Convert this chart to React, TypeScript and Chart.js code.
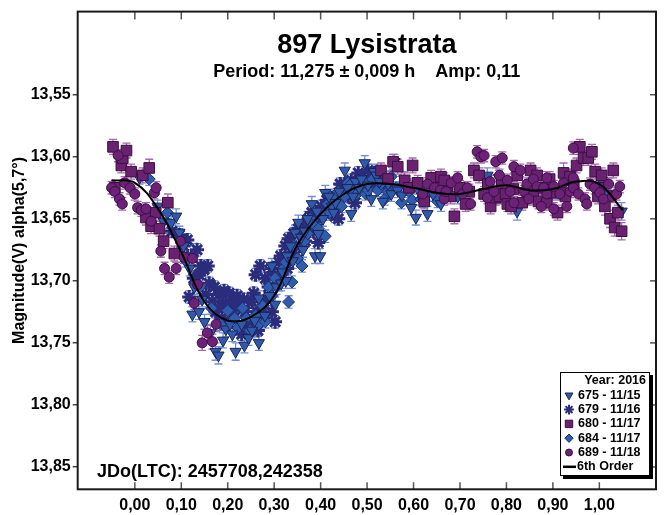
import React, { useEffect, useRef } from 'react';
import { Chart, registerables } from 'chart.js';
import { drawPoint } from 'chart.js/helpers';

Chart.register(...registerables);

const FONT = '"Liberation Sans", Arial, sans-serif';

const titleText = '897 Lysistrata';
const subtitleText = 'Period: 11,275 ± 0,009 h    Amp: 0,11';
const epochText = 'JDo(LTC): 2457708,242358';
const yAxisTitle = 'Magnitude(V) alpha(5,7°)';
const legendTitle = 'Year: 2016';

const xTicks = [0, 0.1, 0.2, 0.3, 0.4, 0.5, 0.6, 0.7, 0.8, 0.9, 1.0];
const xTickLabels = ['0,00', '0,10', '0,20', '0,30', '0,40', '0,50', '0,60', '0,70', '0,80', '0,90', '1,00'];
const yTicks = [13.55, 13.6, 13.65, 13.7, 13.75, 13.8, 13.85];
const yTickLabels = ['13,55', '13,60', '13,65', '13,70', '13,75', '13,80', '13,85'];

// 6th order Fourier fit (phase, magnitude)
const curvePhase = [-0.05, 0, 0.05, 0.1, 0.15, 0.2, 0.25, 0.3, 0.35, 0.4, 0.45, 0.5, 0.55, 0.6, 0.65, 0.7, 0.75, 0.8, 0.85, 0.9, 0.95, 1.0, 1.05];
const curveMag = [13.619, 13.621, 13.642, 13.677, 13.717, 13.732, 13.729, 13.712, 13.671, 13.646, 13.630, 13.622, 13.622, 13.625, 13.629, 13.630, 13.626, 13.623, 13.627, 13.626, 13.620, 13.622, 13.643];

// [phase, magnitude, error]
const s675: [number, number, number][] = [
  [0.010, 13.617, 0.005], [0.049, 13.640, 0.005], [0.062, 13.652, 0.006], [0.078, 13.653, 0.005], [0.089, 13.648, 0.006],
  [0.096, 13.661, 0.005], [0.105, 13.672, 0.006], [0.118, 13.690, 0.006], [0.124, 13.727, 0.006], [0.128, 13.705, 0.006],
  [0.138, 13.725, 0.006], [0.145, 13.715, 0.006], [0.150, 13.733, 0.006], [0.163, 13.742, 0.007], [0.174, 13.757, 0.007],
  [0.180, 13.760, 0.007], [0.190, 13.748, 0.006], [0.196, 13.739, 0.006], [0.205, 13.735, 0.006], [0.210, 13.743, 0.006],
  [0.217, 13.757, 0.007], [0.230, 13.735, 0.006], [0.236, 13.752, 0.006], [0.245, 13.746, 0.006], [0.252, 13.740, 0.006],
  [0.267, 13.750, 0.006], [0.258, 13.732, 0.006], [0.280, 13.728, 0.006], [0.267, 13.714, 0.006], [0.290, 13.712, 0.006],
  [0.295, 13.688, 0.006], [0.302, 13.719, 0.006], [0.305, 13.705, 0.006], [0.315, 13.702, 0.006], [0.318, 13.693, 0.006],
  [0.325, 13.700, 0.006], [0.328, 13.680, 0.006], [0.335, 13.672, 0.006], [0.340, 13.684, 0.006], [0.345, 13.661, 0.006],
  [0.352, 13.653, 0.006], [0.358, 13.665, 0.006], [0.362, 13.675, 0.006], [0.366, 13.660, 0.006], [0.372, 13.650, 0.006],
  [0.381, 13.638, 0.006], [0.388, 13.680, 0.006], [0.392, 13.644, 0.006], [0.395, 13.662, 0.006], [0.399, 13.680, 0.006],
  [0.405, 13.650, 0.006], [0.410, 13.629, 0.006], [0.418, 13.632, 0.006], [0.424, 13.640, 0.006], [0.428, 13.645, 0.006],
  [0.432, 13.637, 0.006], [0.440, 13.628, 0.006], [0.452, 13.611, 0.006], [0.458, 13.625, 0.006], [0.466, 13.646, 0.006],
  [0.470, 13.632, 0.006], [0.475, 13.620, 0.006], [0.483, 13.625, 0.006], [0.488, 13.618, 0.006], [0.495, 13.605, 0.006],
  [0.502, 13.623, 0.006], [0.509, 13.634, 0.006], [0.515, 13.612, 0.006], [0.520, 13.615, 0.006], [0.527, 13.620, 0.006],
  [0.534, 13.636, 0.006], [0.540, 13.618, 0.006], [0.545, 13.622, 0.006], [0.552, 13.630, 0.006], [0.559, 13.604, 0.006],
  [0.566, 13.627, 0.006], [0.575, 13.631, 0.006], [0.580, 13.618, 0.006], [0.588, 13.624, 0.006], [0.595, 13.641, 0.006],
  [0.605, 13.649, 0.006], [0.612, 13.628, 0.006], [0.620, 13.635, 0.006], [0.630, 13.646, 0.006], [0.642, 13.630, 0.006],
  [0.659, 13.638, 0.006], [0.695, 13.632, 0.006], [0.759, 13.615, 0.006], [0.784, 13.617, 0.006], [0.823, 13.644, 0.007],
  [0.905, 13.628, 0.006], [1.005, 13.619, 0.006], [1.016, 13.630, 0.006], [1.048, 13.644, 0.007],
];

const s679: [number, number, number][] = [
  [0.080, 13.660, 0.005], [0.096, 13.663, 0.005], [0.105, 13.672, 0.005], [0.113, 13.667, 0.005], [0.117, 13.713, 0.005],
  [0.122, 13.680, 0.005], [0.127, 13.698, 0.005], [0.134, 13.675, 0.005], [0.138, 13.695, 0.005], [0.142, 13.688, 0.005],
  [0.149, 13.691, 0.005], [0.153, 13.711, 0.005], [0.157, 13.688, 0.005], [0.160, 13.702, 0.005], [0.167, 13.717, 0.005],
  [0.171, 13.705, 0.005], [0.174, 13.725, 0.005], [0.181, 13.711, 0.005], [0.185, 13.720, 0.005], [0.188, 13.730, 0.005],
  [0.192, 13.708, 0.005], [0.196, 13.718, 0.005], [0.203, 13.710, 0.005], [0.206, 13.718, 0.005], [0.210, 13.727, 0.005],
  [0.217, 13.720, 0.005], [0.220, 13.712, 0.005], [0.224, 13.721, 0.005], [0.230, 13.743, 0.005], [0.234, 13.715, 0.005],
  [0.238, 13.725, 0.005], [0.242, 13.738, 0.005], [0.245, 13.733, 0.005], [0.252, 13.717, 0.005], [0.256, 13.710, 0.005],
  [0.260, 13.695, 0.005], [0.263, 13.725, 0.005], [0.265, 13.740, 0.005], [0.270, 13.688, 0.005], [0.275, 13.722, 0.005],
  [0.281, 13.698, 0.005], [0.281, 13.730, 0.005], [0.285, 13.715, 0.005], [0.288, 13.705, 0.005], [0.295, 13.690, 0.005],
  [0.295, 13.725, 0.005], [0.300, 13.695, 0.005], [0.302, 13.733, 0.005], [0.310, 13.685, 0.005], [0.314, 13.680, 0.005],
  [0.318, 13.698, 0.005], [0.324, 13.672, 0.005], [0.328, 13.690, 0.005], [0.331, 13.666, 0.005], [0.338, 13.674, 0.005],
  [0.342, 13.662, 0.005], [0.345, 13.680, 0.005], [0.352, 13.658, 0.005], [0.356, 13.672, 0.005], [0.360, 13.661, 0.005],
  [0.367, 13.668, 0.005], [0.370, 13.655, 0.005], [0.374, 13.650, 0.005], [0.381, 13.645, 0.005], [0.384, 13.660, 0.005],
  [0.388, 13.655, 0.005], [0.395, 13.669, 0.005], [0.398, 13.648, 0.005], [0.402, 13.640, 0.005], [0.410, 13.646, 0.005],
  [0.413, 13.635, 0.005], [0.417, 13.642, 0.005], [0.424, 13.633, 0.005], [0.428, 13.640, 0.005], [0.431, 13.648, 0.005],
  [0.438, 13.650, 0.005], [0.442, 13.622, 0.005], [0.445, 13.629, 0.005], [0.452, 13.622, 0.005], [0.456, 13.628, 0.005],
  [0.459, 13.632, 0.005], [0.466, 13.619, 0.005], [0.470, 13.625, 0.005], [0.474, 13.637, 0.005], [0.481, 13.613, 0.005],
  [0.485, 13.620, 0.005], [0.488, 13.626, 0.005], [0.495, 13.618, 0.005], [0.502, 13.611, 0.005], [0.509, 13.622, 0.005],
  [0.516, 13.613, 0.005], [0.520, 13.616, 0.005], [0.530, 13.620, 0.005], [0.545, 13.625, 0.005],
];

const s680: [number, number, number][] = [
  [-0.047, 13.592, 0.006], [-0.043, 13.625, 0.006], [-0.029, 13.607, 0.006], [-0.026, 13.601, 0.006], [-0.018, 13.595, 0.006],
  [-0.008, 13.612, 0.006], [0.017, 13.615, 0.006], [0.024, 13.649, 0.006], [0.031, 13.609, 0.007], [0.035, 13.656, 0.006],
  [0.045, 13.645, 0.006], [0.053, 13.658, 0.006], [0.062, 13.668, 0.006], [0.071, 13.637, 0.007], [0.085, 13.678, 0.006],
  [0.530, 13.611, 0.006], [0.545, 13.618, 0.006], [0.556, 13.604, 0.006], [0.566, 13.608, 0.006], [0.581, 13.619, 0.006],
  [0.590, 13.625, 0.006], [0.598, 13.607, 0.006], [0.609, 13.621, 0.006], [0.623, 13.636, 0.006], [0.638, 13.617, 0.006],
  [0.650, 13.625, 0.006], [0.659, 13.616, 0.006], [0.666, 13.619, 0.006], [0.673, 13.628, 0.006], [0.680, 13.632, 0.006],
  [0.688, 13.648, 0.006], [0.700, 13.625, 0.006], [0.712, 13.638, 0.006], [0.720, 13.628, 0.006], [0.730, 13.611, 0.006],
  [0.741, 13.615, 0.006], [0.752, 13.630, 0.006], [0.760, 13.622, 0.006], [0.766, 13.640, 0.006], [0.777, 13.633, 0.006],
  [0.785, 13.632, 0.006], [0.790, 13.622, 0.006], [0.798, 13.630, 0.006], [0.802, 13.638, 0.006], [0.810, 13.640, 0.006],
  [0.815, 13.626, 0.006], [0.823, 13.615, 0.006], [0.834, 13.637, 0.006], [0.845, 13.628, 0.006], [0.852, 13.611, 0.006],
  [0.858, 13.632, 0.006], [0.866, 13.615, 0.006], [0.869, 13.636, 0.006], [0.880, 13.625, 0.006], [0.887, 13.637, 0.006],
  [0.893, 13.618, 0.006], [0.898, 13.629, 0.006], [0.910, 13.645, 0.006], [0.917, 13.628, 0.006], [0.923, 13.613, 0.008],
  [0.927, 13.632, 0.006], [0.937, 13.616, 0.006], [0.945, 13.622, 0.006], [0.951, 13.607, 0.006], [0.958, 13.592, 0.006],
  [0.966, 13.601, 0.006], [0.976, 13.601, 0.006], [0.984, 13.596, 0.006], [0.991, 13.612, 0.006], [0.997, 13.632, 0.006],
  [1.000, 13.625, 0.006], [1.005, 13.615, 0.006], [1.012, 13.640, 0.007], [1.023, 13.650, 0.007], [1.030, 13.611, 0.006],
  [1.033, 13.657, 0.007], [1.040, 13.645, 0.006], [1.048, 13.660, 0.007],
];

const s684: [number, number, number][] = [
  [0.031, 13.618, 0.005], [0.070, 13.645, 0.005], [0.110, 13.684, 0.005], [0.140, 13.705, 0.005], [0.165, 13.722, 0.005],
  [0.185, 13.735, 0.005], [0.200, 13.724, 0.005], [0.215, 13.730, 0.005], [0.222, 13.738, 0.005], [0.232, 13.722, 0.005],
  [0.240, 13.730, 0.005], [0.248, 13.740, 0.005], [0.260, 13.728, 0.005], [0.267, 13.735, 0.005], [0.275, 13.720, 0.005],
  [0.281, 13.733, 0.005], [0.288, 13.705, 0.005], [0.295, 13.712, 0.005], [0.302, 13.698, 0.005], [0.310, 13.703, 0.005],
  [0.320, 13.690, 0.005], [0.325, 13.685, 0.005], [0.331, 13.717, 0.005], [0.338, 13.701, 0.005], [0.343, 13.672, 0.005],
  [0.350, 13.682, 0.005], [0.360, 13.688, 0.005], [0.365, 13.668, 0.005], [0.372, 13.662, 0.005], [0.378, 13.650, 0.005],
  [0.385, 13.655, 0.005], [0.395, 13.658, 0.005], [0.402, 13.645, 0.005], [0.410, 13.664, 0.005], [0.415, 13.638, 0.005],
  [0.420, 13.645, 0.005], [0.431, 13.633, 0.005], [0.438, 13.628, 0.005], [0.445, 13.640, 0.005], [0.452, 13.632, 0.005],
  [0.459, 13.621, 0.005], [0.465, 13.622, 0.005], [0.470, 13.630, 0.005], [0.481, 13.629, 0.005], [0.492, 13.620, 0.005],
  [0.497, 13.630, 0.005], [0.502, 13.627, 0.005], [0.512, 13.618, 0.005], [0.523, 13.627, 0.005], [0.530, 13.622, 0.005],
  [0.538, 13.634, 0.005], [0.545, 13.628, 0.005], [0.552, 13.616, 0.005], [0.563, 13.625, 0.005], [0.574, 13.637, 0.005],
  [0.580, 13.622, 0.005], [0.590, 13.628, 0.005], [0.597, 13.635, 0.005], [0.604, 13.622, 0.005], [0.616, 13.634, 0.005],
  [0.630, 13.630, 0.005], [0.652, 13.636, 0.005],
];

const s689: [number, number, number][] = [
  [-0.050, 13.625, 0.005], [-0.043, 13.628, 0.005], [-0.036, 13.599, 0.005], [-0.033, 13.634, 0.005], [-0.027, 13.638, 0.005],
  [-0.022, 13.621, 0.005], [-0.010, 13.625, 0.005], [0.000, 13.630, 0.005], [0.006, 13.641, 0.005], [0.014, 13.643, 0.005],
  [0.024, 13.642, 0.005], [0.035, 13.652, 0.005], [0.042, 13.629, 0.005], [0.046, 13.625, 0.005], [0.056, 13.676, 0.005],
  [0.064, 13.690, 0.005], [0.074, 13.697, 0.005], [0.089, 13.690, 0.005], [0.098, 13.668, 0.005], [0.106, 13.681, 0.005],
  [0.124, 13.682, 0.005], [0.128, 13.718, 0.005], [0.135, 13.703, 0.005], [0.145, 13.750, 0.006], [0.156, 13.742, 0.006],
  [0.167, 13.749, 0.006], [0.175, 13.735, 0.006],
  [0.620, 13.630, 0.005], [0.630, 13.622, 0.005], [0.645, 13.625, 0.005], [0.658, 13.627, 0.005], [0.666, 13.634, 0.005],
  [0.670, 13.628, 0.005], [0.681, 13.621, 0.005], [0.695, 13.617, 0.005], [0.705, 13.630, 0.005], [0.716, 13.625, 0.005],
  [0.723, 13.638, 0.005], [0.737, 13.596, 0.005], [0.745, 13.600, 0.005], [0.752, 13.599, 0.005], [0.759, 13.633, 0.005],
  [0.765, 13.620, 0.005], [0.773, 13.628, 0.005], [0.777, 13.604, 0.005], [0.785, 13.615, 0.005], [0.791, 13.601, 0.005],
  [0.802, 13.619, 0.005], [0.808, 13.628, 0.005], [0.816, 13.608, 0.005], [0.816, 13.637, 0.005], [0.830, 13.611, 0.005],
  [0.838, 13.628, 0.005], [0.844, 13.622, 0.005], [0.848, 13.634, 0.005], [0.858, 13.618, 0.005], [0.866, 13.624, 0.005],
  [0.875, 13.640, 0.005], [0.880, 13.625, 0.005], [0.887, 13.617, 0.005], [0.887, 13.630, 0.005], [0.902, 13.624, 0.005],
  [0.902, 13.642, 0.005], [0.915, 13.630, 0.005], [0.923, 13.621, 0.005], [0.930, 13.640, 0.005], [0.937, 13.628, 0.005],
  [0.944, 13.593, 0.005], [0.944, 13.617, 0.005], [0.944, 13.625, 0.005], [0.955, 13.630, 0.005], [0.969, 13.634, 0.005],
  [0.973, 13.638, 0.005], [0.980, 13.622, 0.005], [0.990, 13.625, 0.005], [1.001, 13.629, 0.005], [1.009, 13.634, 0.005],
  [1.020, 13.622, 0.005], [1.028, 13.632, 0.005], [1.037, 13.630, 0.005], [1.044, 13.624, 0.005],
];

const toPts = (arr: [number, number, number][]) => arr.map(([x, y, e]) => ({ x, y, e }));

type SeriesStyle = {
  label: string; data: [number, number, number][]; pointStyle: string; rotation: number;
  radius: number; bg: string; border: string; bw: number; err: string; order: number;
};

const series: SeriesStyle[] = [
  { label: '675 - 11/15', data: s675, pointStyle: 'triangle', rotation: 180, radius: 6.5, bg: '#3159aa', border: '#1a2458', bw: 1, err: '#6f8fd6', order: 3 },
  { label: '679 - 11/16', data: s679, pointStyle: 'star', rotation: 0, radius: 7, bg: '#2b2c7c', border: '#2b2c7c', bw: 3, err: '#6f8fd6', order: 5 },
  { label: '680 - 11/17', data: s680, pointStyle: 'rect', rotation: 0, radius: 7.5, bg: '#6a2270', border: '#3a0f42', bw: 1, err: '#a868ab', order: 2 },
  { label: '684 - 11/17', data: s684, pointStyle: 'rectRot', rotation: 0, radius: 6, bg: '#2f5cae', border: '#1c3370', bw: 1, err: '#6f8fd6', order: 4 },
  { label: '689 - 11/18', data: s689, pointStyle: 'circle', rotation: 0, radius: 5, bg: '#6c2276', border: '#3b0f45', bw: 1, err: '#a868ab', order: 1 },
];

const errorBarPlugin = {
  id: 'errbars',
  beforeDatasetsDraw(chart: any) {
    const ctx = chart.ctx;
    const yS = chart.scales.y;
    chart.data.datasets.forEach((ds: any, di: number) => {
      if (!ds.errColor) return;
      const meta = chart.getDatasetMeta(di);
      ctx.save();
      ctx.strokeStyle = ds.errColor;
      ctx.lineWidth = 1.3;
      meta.data.forEach((el: any, i: number) => {
        const d = ds.data[i];
        const x = el.x;
        const y1 = yS.getPixelForValue(d.y - d.e);
        const y2 = yS.getPixelForValue(d.y + d.e);
        ctx.beginPath();
        ctx.moveTo(x, y1); ctx.lineTo(x, y2);
        ctx.moveTo(x - 4, y1); ctx.lineTo(x + 4, y1);
        ctx.moveTo(x - 4, y2); ctx.lineTo(x + 4, y2);
        ctx.stroke();
      });
      ctx.restore();
    });
  },
};

const decorPlugin = {
  id: 'decor',
  afterDraw(chart: any) {
    const ctx = chart.ctx;
    const { left, right, top, bottom } = chart.chartArea;
    const xS = chart.scales.x;
    const yS = chart.scales.y;
    ctx.save();
    ctx.strokeStyle = '#555';
    ctx.lineWidth = 1.5;
    xTicks.forEach((v) => {
      const px = xS.getPixelForValue(v);
      ctx.beginPath();
      ctx.moveTo(px, top); ctx.lineTo(px, top + 8);
      ctx.moveTo(px, bottom); ctx.lineTo(px, bottom - 7);
      ctx.stroke();
    });
    yTicks.forEach((v) => {
      const py = yS.getPixelForValue(v);
      ctx.beginPath();
      ctx.moveTo(right, py); ctx.lineTo(right - 6, py);
      ctx.stroke();
    });
    ctx.strokeStyle = '#1a1a1a';
    ctx.lineWidth = 2;
    ctx.strokeRect(left, top, right - left, bottom - top);

    ctx.fillStyle = '#000';
    ctx.textAlign = 'center';
    ctx.textBaseline = 'alphabetic';
    const cx = (left + right) / 2;
    ctx.font = `bold 27px ${FONT}`;
    ctx.fillText(titleText, cx, 53);
    ctx.font = `bold 18px ${FONT}`;
    ctx.fillText(subtitleText, cx, 76.5);
    ctx.textAlign = 'left';
    ctx.font = `bold 18px ${FONT}`;
    ctx.fillText(epochText, 97, 477);

    const bx = 560, by = 372, bw = 90, bh = 104;
    ctx.fillStyle = '#000';
    ctx.fillRect(bx + 3, by + 3, bw, bh);
    ctx.fillStyle = '#fff';
    ctx.fillRect(bx, by, bw, bh);
    ctx.strokeStyle = '#000';
    ctx.lineWidth = 1;
    ctx.strokeRect(bx + 0.5, by + 0.5, bw - 1, bh - 1);
    ctx.fillStyle = '#000';
    ctx.font = `bold 12.5px ${FONT}`;
    ctx.textBaseline = 'middle';
    ctx.textAlign = 'right';
    ctx.fillText(legendTitle, bx + bw - 4, by + 9);
    ctx.textAlign = 'left';
    const rowH = 14.3;
    series.forEach((s, i) => {
      const ry = by + 9 + rowH * (i + 1);
      ctx.fillStyle = s.bg;
      ctx.strokeStyle = s.border;
      const isStar = s.pointStyle === 'star';
      ctx.lineWidth = isStar ? 2 : 1;
      drawPoint(ctx, { pointStyle: s.pointStyle as any, rotation: s.rotation, radius: s.radius * 0.7, borderWidth: isStar ? 2 : 1 }, bx + 9, ry);
      ctx.fillStyle = '#000';
      ctx.fillText(s.label, bx + 18, ry);
    });
    const ly = by + 9 + rowH * 6;
    ctx.strokeStyle = '#000';
    ctx.lineWidth = 2.5;
    ctx.beginPath();
    ctx.moveTo(bx + 3, ly); ctx.lineTo(bx + 16, ly);
    ctx.stroke();
    ctx.fillStyle = '#000';
    ctx.fillText('6th Order', bx + 17, ly);
    ctx.restore();
  },
};

export default function App() {
  const ref = useRef<HTMLCanvasElement | null>(null);
  useEffect(() => {
    if (!ref.current) return;
    Chart.defaults.font.family = FONT;
    const datasets: any[] = [
      {
        type: 'line',
        label: '6th Order',
        data: curvePhase.map((x, i) => ({ x, y: curveMag[i] })),
        borderColor: '#000',
        borderWidth: 2,
        pointRadius: 0,
        tension: 0.4,
        fill: false,
        order: 0,
      },
      ...series.map((s) => ({
        type: 'scatter',
        label: s.label,
        data: toPts(s.data),
        pointStyle: s.pointStyle,
        rotation: s.rotation,
        pointRadius: s.radius,
        backgroundColor: s.bg,
        borderColor: s.border,
        borderWidth: s.bw,
        errColor: s.err,
        order: s.order,
      })),
    ];
    const chart = new Chart(ref.current, {
      type: 'scatter',
      data: { datasets },
      options: {
        animation: false,
        responsive: false,
        devicePixelRatio: 1,
        layout: { padding: { top: 6.7, right: 6.3, left: 0, bottom: 0 } },
        plugins: { legend: { display: false }, tooltip: { enabled: false } },
        scales: {
          x: {
            type: 'linear',
            min: -0.123,
            max: 1.122,
            afterFit: (s: any) => { s.height = 25.7; },
            afterBuildTicks: (s: any) => { s.ticks = xTicks.map((v) => ({ value: v })); },
            border: { display: false },
            grid: { drawOnChartArea: false, drawTicks: false },
            ticks: {
              autoSkip: false,
              maxRotation: 0,
              padding: 7,
              color: '#000',
              font: { family: FONT, size: 16, weight: 'bold' },
              callback: (v: any) => {
                const i = xTicks.findIndex((t) => Math.abs(t - Number(v)) < 1e-6);
                return i >= 0 ? xTickLabels[i] : '';
              },
            },
          },
          y: {
            type: 'linear',
            reverse: true,
            min: 13.483,
            max: 13.868,
            afterFit: (s: any) => { s.width = 77.7; },
            afterBuildTicks: (s: any) => { s.ticks = yTicks.map((v) => ({ value: v })); },
            border: { display: false },
            grid: { drawOnChartArea: false, drawTicks: true, tickLength: 5, color: '#444', lineWidth: 1.5 },
            ticks: {
              padding: 2,
              color: '#000',
              font: { family: FONT, size: 16, weight: 'bold' },
              callback: (v: any) => {
                const i = yTicks.findIndex((t) => Math.abs(t - Number(v)) < 1e-6);
                return i >= 0 ? yTickLabels[i] : '';
              },
            },
            title: {
              display: true,
              text: yAxisTitle,
              color: '#000',
              font: { family: FONT, size: 16, weight: 'bold' },
              padding: { top: 10, bottom: 0 },
            },
          },
        },
      },
      plugins: [errorBarPlugin, decorPlugin],
    } as any);
    return () => chart.destroy();
  }, []);
  return (
    <div style={{ position: 'absolute', left: 0, top: 0, width: 666, height: 515, background: '#fff' }}>
      <canvas ref={ref} width={666} height={515} style={{ display: 'block', width: 666, height: 515 }} />
    </div>
  );
}
